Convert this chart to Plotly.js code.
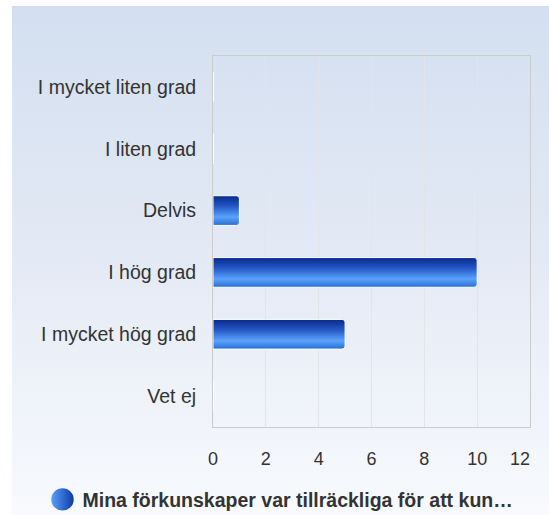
<!DOCTYPE html>
<html><head><meta charset="utf-8">
<script src="https://cdn.plot.ly/plotly-3.0.1.min.js"></script>
<style>
html,body{margin:0;padding:0;background:#fff;}
#chart{position:absolute;left:12px;top:6px;width:537px;height:509px;
background:linear-gradient(to bottom,#d3dff0 0%,#e4eaf5 50%,#f8fafd 100%);}
</style></head><body>
<div id="chart"></div>
<script>
const categories = ["I mycket liten grad","I liten grad","Delvis","I hög grad","I mycket hög grad","Vet ej"];
const values = [0,0,1,10,5,0];
const seriesName = "Mina förkunskaper var tillräckliga för att kun…";
const xTicks = [0,2,4,6,8,10,12];

const barHalf = 0.24;
const zeroShapes = [];
values.forEach((v,i)=>{ if(v===0){ zeroShapes.push({type:'line',xref:'x',yref:'y',x0:0,x1:0,y0:i-barHalf,y1:i+barHalf,line:{color:'#ffffff',width:1.5},layer:'above'}); }});

const traces = [
 {type:'bar',orientation:'h',y:categories,x:values,width:barHalf*2,showlegend:false,
  marker:{color:'#2d62cc',line:{color:'#ffffff',width:1},cornerradius:3},hoverinfo:'x+y'},
 {type:'scatter',mode:'markers',x:[null],y:[null],name:seriesName,showlegend:true,
  marker:{symbol:'circle',size:16,color:'#5aa0f8',gradient:{type:'horizontal',color:'#0d3aa8'}}}
];
const layout = {
 width:537,height:509,
 paper_bgcolor:'rgba(0,0,0,0)',plot_bgcolor:'rgba(0,0,0,0)',
 margin:{l:201,r:19,t:50,b:88},
 font:{family:'Liberation Sans, Arial, sans-serif',color:'#333333',size:18},
 xaxis:{range:[0,12],tickvals:xTicks,ticktext:xTicks.map(String),showgrid:true,gridcolor:'#e2e4e8',gridwidth:1,
   zeroline:false,showline:true,mirror:true,linecolor:'#cccccc',linewidth:1,ticks:'',ticklabelstandoff:15,
   tickfont:{size:18,color:'#333333'},fixedrange:true},
 yaxis:{type:'category',autorange:'reversed',showgrid:false,zeroline:false,showline:true,mirror:true,linecolor:'#cccccc',
   linewidth:1,ticks:'',ticklabelstandoff:12,tickfont:{size:19.5,color:'#333333'},fixedrange:true},
 shapes:zeroShapes,
 showlegend:true,
 legend:{orientation:'h',xref:'container',yref:'container',x:0.5,xanchor:'center',y:0.03,yanchor:'middle',
   font:{size:19.5,color:'#333333',weight:'bold'},bgcolor:'rgba(0,0,0,0)',itemwidth:30,itemsizing:'trace'},
 bargap:0.5
};
Plotly.newPlot('chart',traces,layout,{displayModeBar:false,staticPlot:true}).then(()=>{
  const svg = document.querySelector('#chart svg.main-svg');
  const NS='http://www.w3.org/2000/svg';
  let defs = svg.querySelector('defs');
  const g = document.createElementNS(NS,'linearGradient');
  g.setAttribute('id','barGrad');g.setAttribute('x1','0');g.setAttribute('y1','0');g.setAttribute('x2','0');g.setAttribute('y2','1');
  [[0,'#07298a'],[0.35,'#2457c4'],[0.72,'#5aa3fc'],[1,'#2a6cd2']].forEach(([o,c])=>{
    const s=document.createElementNS(NS,'stop');s.setAttribute('offset',o);s.setAttribute('stop-color',c);g.appendChild(s);});
  defs.appendChild(g);
  document.querySelectorAll('#chart g.trace.bars g.point path, #chart g.trace.bars path.point').forEach(p=>{p.style.fill='url(#barGrad)';});
  document.querySelectorAll('#chart g.legendpoints path.scatterpts').forEach(p=>{
    const t=p.getAttribute('transform')||''; p.setAttribute('transform',t+' scale(1.4)');});
  const xt = document.querySelectorAll('#chart g.xtick text');
  if(xt.length){ xt[xt.length-1].setAttribute('text-anchor','end'); }
});
</script>
</body></html>
